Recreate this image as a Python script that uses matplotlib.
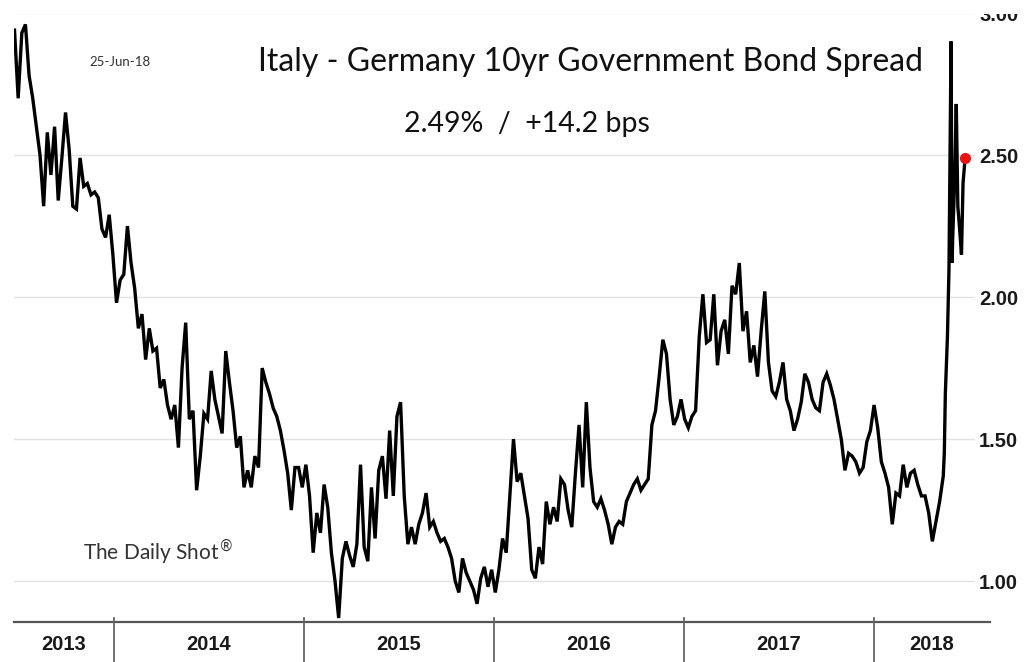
import matplotlib
matplotlib.use("Agg")
import matplotlib.pyplot as plt
import matplotlib.transforms as mtransforms
import pandas as pd

# Italy - Germany 10yr spread, weekly readings from the chart (%)
weekly_start = "2013-06-24"
weekly_spread = [
    2.94, 2.70, 2.93, 2.96, 2.78, 2.70, 2.60, 2.50, 2.32, 2.58, 2.43, 2.60, 2.34,
    2.49, 2.65, 2.52, 2.32, 2.31, 2.49, 2.39, 2.40, 2.36, 2.37, 2.35, 2.24, 2.21,
    2.29, 2.15, 1.98, 2.06, 2.08, 2.25, 2.12, 2.03, 1.89, 1.94, 1.78, 1.89, 1.81,
    1.82, 1.68, 1.71, 1.62, 1.57, 1.62, 1.47, 1.75, 1.91, 1.57, 1.60, 1.32, 1.44,
    1.59, 1.57, 1.74, 1.64, 1.58, 1.52, 1.81, 1.70, 1.60, 1.47, 1.51, 1.33, 1.39,
    1.33, 1.44, 1.40, 1.75, 1.70, 1.66, 1.61, 1.58, 1.53, 1.46, 1.38, 1.25, 1.40,
    1.40, 1.33, 1.41, 1.30, 1.10, 1.24, 1.17, 1.34, 1.26, 1.10, 1.00, 0.87, 1.08,
    1.14, 1.09, 1.05, 1.13, 1.41, 1.12, 1.07, 1.33, 1.15, 1.39, 1.44, 1.29, 1.53,
    1.30, 1.58, 1.63, 1.30, 1.13, 1.19, 1.13, 1.20, 1.24, 1.31, 1.19, 1.21, 1.17,
    1.14, 1.15, 1.12, 1.08, 1.00, 0.96, 1.08, 1.03, 1.00, 0.97, 0.92, 1.01, 1.05,
    0.98, 1.04, 0.96, 1.04, 1.15, 1.10, 1.30, 1.50, 1.35, 1.38, 1.30, 1.22, 1.04,
    1.01, 1.12, 1.06, 1.28, 1.20, 1.26, 1.21, 1.36, 1.34, 1.25, 1.19, 1.38, 1.55,
    1.33, 1.63, 1.40, 1.28, 1.26, 1.29, 1.25, 1.20, 1.13, 1.19, 1.21, 1.20, 1.28,
    1.31, 1.34, 1.36, 1.32, 1.34, 1.36, 1.55, 1.60, 1.72, 1.85, 1.80, 1.64, 1.55,
    1.58, 1.64, 1.57, 1.54, 1.58, 1.60, 1.86, 2.01, 1.84, 1.85, 2.01, 1.76, 1.88,
    1.92, 1.80, 2.04, 2.01, 2.12, 1.88, 1.95, 1.77, 1.83, 1.72, 1.88, 2.02, 1.77,
    1.67, 1.65, 1.70, 1.77, 1.64, 1.60, 1.53, 1.57, 1.63, 1.73, 1.70, 1.64, 1.61,
    1.60, 1.70, 1.73, 1.69, 1.64, 1.57, 1.50, 1.39, 1.45, 1.44, 1.42, 1.38, 1.40,
    1.49, 1.53, 1.62, 1.54, 1.42, 1.38, 1.33, 1.20, 1.31, 1.30, 1.41, 1.33, 1.38,
    1.39, 1.34, 1.30, 1.30, 1.24, 1.14, 1.21, 1.28, 1.37,
]

# May-June 2018 jump, read at a finer step
tail_dates = ["2018-05-16", "2018-05-18", "2018-05-22", "2018-05-25", "2018-05-29",
              "2018-05-31", "2018-06-01", "2018-06-05", "2018-06-08", "2018-06-11",
              "2018-06-14", "2018-06-18", "2018-06-21", "2018-06-25"]
tail_spread = [1.45, 1.66, 1.86, 2.10, 2.90, 2.12, 2.20, 2.42, 2.68, 2.32,
               2.25, 2.15, 2.40, 2.49]

years = ["2013", "2014", "2015", "2016", "2017", "2018"]
year_starts = ["2014-01-01", "2015-01-01", "2016-01-01", "2017-01-01", "2018-01-01"]
y_ticks = [1.0, 1.5, 2.0, 2.5, 3.0]

title = "Italy - Germany 10yr Government Bond Spread"
subtitle = "2.49%  /  +14.2 bps"
as_of = "25-Jun-18"

dates = list(pd.date_range(weekly_start, periods=len(weekly_spread), freq="7D"))
dates += list(pd.to_datetime(tail_dates))
spread = weekly_spread + tail_spread

W, H = 1025, 662
fig = plt.figure(figsize=(W / 100, H / 100), dpi=100)
ax = fig.add_axes([14 / W, 40 / H, (975 - 14) / W, 1 - 40 / H])

ax.plot(dates, spread, color="black", lw=2.4, solid_joinstyle="miter")
ax.plot(dates[-1], spread[-1], "o", color="#ee1111", ms=7, zorder=5)

x_left = pd.Timestamp("2013-06-23")
x_right = pd.Timestamp("2018-07-14")
ax.set_xlim(x_left, x_right)
ax.set_ylim(0.856, 3.046)

for s in ax.spines.values():
    s.set_visible(False)
ax.set_xticks([])
ax.yaxis.tick_right()
ax.set_yticks(y_ticks)
ax.set_yticklabels([f"{v:.2f}" for v in y_ticks])
ax.tick_params(axis="y", length=0, pad=3, labelsize=14.5, labelcolor="#1a1a1a")
for lab in ax.get_yticklabels():
    lab.set_fontweight("bold")
    lab.set_family("Liberation Sans")
ax.grid(axis="y", color="#e2e2e2", lw=1)
ax.set_axisbelow(True)

# bottom year band
ax.plot([0, (990 - 14) / (975 - 14)], [0, 0], transform=ax.transAxes,
        color="#555555", lw=1.6, clip_on=False)
trans = mtransforms.blended_transform_factory(ax.transData, ax.transAxes)
ax_h = H - 40
bounds = [x_left] + [pd.Timestamp(d) for d in year_starts] + [pd.Timestamp("2018-08-12")]
for d in year_starts:
    ax.plot([pd.Timestamp(d)] * 2, [4 / ax_h, -40 / ax_h], transform=trans,
            color="#666666", lw=1.3, clip_on=False)
for i, yr in enumerate(years):
    mid = bounds[i] + (bounds[i + 1] - bounds[i]) / 2
    ax.text(mid, -23 / ax_h, yr, transform=trans, ha="center", va="center",
            fontsize=14.5, fontweight="bold", family="Liberation Sans", color="#1a1a1a")

# hide the top few pixels, the 3.00 label is cut there in the original
fig.add_artist(plt.Rectangle((0, 1 - 14 / H), 1, 14 / H, transform=fig.transFigure,
                             facecolor="white", edgecolor="none", zorder=10))

fig.text(591 / W, 1 - 62 / H, title, ha="center", va="center",
         fontsize=23, family="Lato", color="#111111")
fig.text(527 / W, 1 - 124 / H, subtitle, ha="center", va="center",
         fontsize=20.5, family="Lato", color="#111111")
fig.text(120 / W, 1 - 62 / H, as_of, ha="center", va="center",
         fontsize=9.5, family="Lato", color="#333333")
fig.text(158 / W, 1 - 552 / H, "The Daily Shot$^{\u00ae}$", ha="center", va="center",
         fontsize=15, family="Lato", color="#333333")

fig.savefig("out.png", dpi=100, facecolor="white")
